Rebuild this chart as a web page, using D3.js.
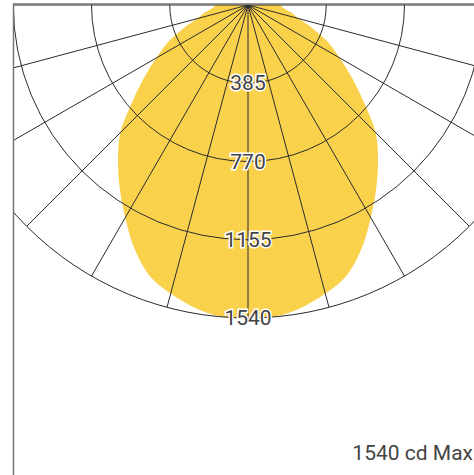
<!DOCTYPE html>
<html>
<head>
<meta charset="utf-8">
<script src="https://cdn.jsdelivr.net/npm/d3@7"></script>
<style>
  body { margin: 0; background: #fff; }
  svg { display: block; }
</style>
</head>
<body>
<div id="chart"></div>
<script>
// angles from nadir (deg) and luminous intensity (cd)
const angles = [0, 5, 10, 15, 20, 25, 30, 35, 40, 45, 50, 55, 60, 65, 70, 75, 80, 85, 90];
const intensity = [1540, 1538, 1512, 1470, 1417, 1322, 1208, 1100, 995, 888, 744, 624, 520, 435, 340, 258, 215, 175, 160];
const ringValues = [385, 770, 1155, 1540];
const rayAngles = [-90, -75, -60, -45, -30, -15, 0, 15, 30, 45, 60, 75, 90];
const maxLabel = "1540 cd Max";

const width = 474, height = 475;
const cx = 248, cy = 5;

const svg = d3.select("#chart").append("svg")
    .attr("width", width)
    .attr("height", height);

// clip everything to the frame
svg.append("clipPath").attr("id", "frame")
  .append("rect")
    .attr("x", 14).attr("y", 4)
    .attr("width", width - 14).attr("height", height - 4);

const r = d3.scaleLinear().domain([0, 1540]).range([0, 313]);

const g = svg.append("g")
    .attr("clip-path", "url(#frame)")
  .append("g")
    .attr("transform", `translate(${cx},${cy})`);

// full curve, mirrored around nadir
const pts = [];
angles.slice().reverse().forEach((a, i) => pts.push([-a, intensity[angles.length - 1 - i]]));
angles.slice(1).forEach((a, i) => pts.push([a, intensity[i + 1]]));

const line = d3.lineRadial()
    .angle(d => Math.PI + d[0] * Math.PI / 180)
    .radius(d => r(d[1]))
    .curve(d3.curveCatmullRom);

g.append("path")
    .attr("d", line(pts) + "Z")
    .attr("fill", "#f9d14b");

// rings
g.selectAll("circle.ring")
  .data(ringValues)
  .join("circle")
    .attr("class", "ring")
    .attr("r", d => r(d))
    .attr("fill", "none")
    .attr("stroke", "#2b2b2b")
    .attr("stroke-width", 1);

// rays
g.selectAll("line.ray")
  .data(rayAngles)
  .join("line")
    .attr("class", "ray")
    .attr("x1", 0).attr("y1", 0)
    .attr("x2", d => -r(1540) * Math.sin(d * Math.PI / 180))
    .attr("y2", d => r(1540) * Math.cos(d * Math.PI / 180))
    .attr("stroke", "#2b2b2b")
    .attr("stroke-width", 1);

// ring labels
g.selectAll("text.lbl")
  .data(ringValues)
  .join("text")
    .attr("class", "lbl")
    .attr("x", 0)
    .attr("y", d => r(d))
    .attr("text-anchor", "middle")
    .attr("dominant-baseline", "central")
    .style("font", "21px Roboto, sans-serif")
    .style("paint-order", "stroke")
    .attr("stroke", "#fff")
    .attr("stroke-width", 3)
    .attr("fill", "#444")
    .text(d => d);

// frame (left + top only)
svg.append("path")
    .attr("d", `M13.5,${height} V4 H${width}`)
    .attr("fill", "none")
    .attr("stroke", "#777")
    .attr("stroke-width", 1.5);

svg.append("text")
    .attr("x", 473)
    .attr("y", 460)
    .attr("text-anchor", "end")
    .style("font", "21px Roboto, sans-serif")
    .attr("fill", "#444")
    .text(maxLabel);
</script>
</body>
</html>
